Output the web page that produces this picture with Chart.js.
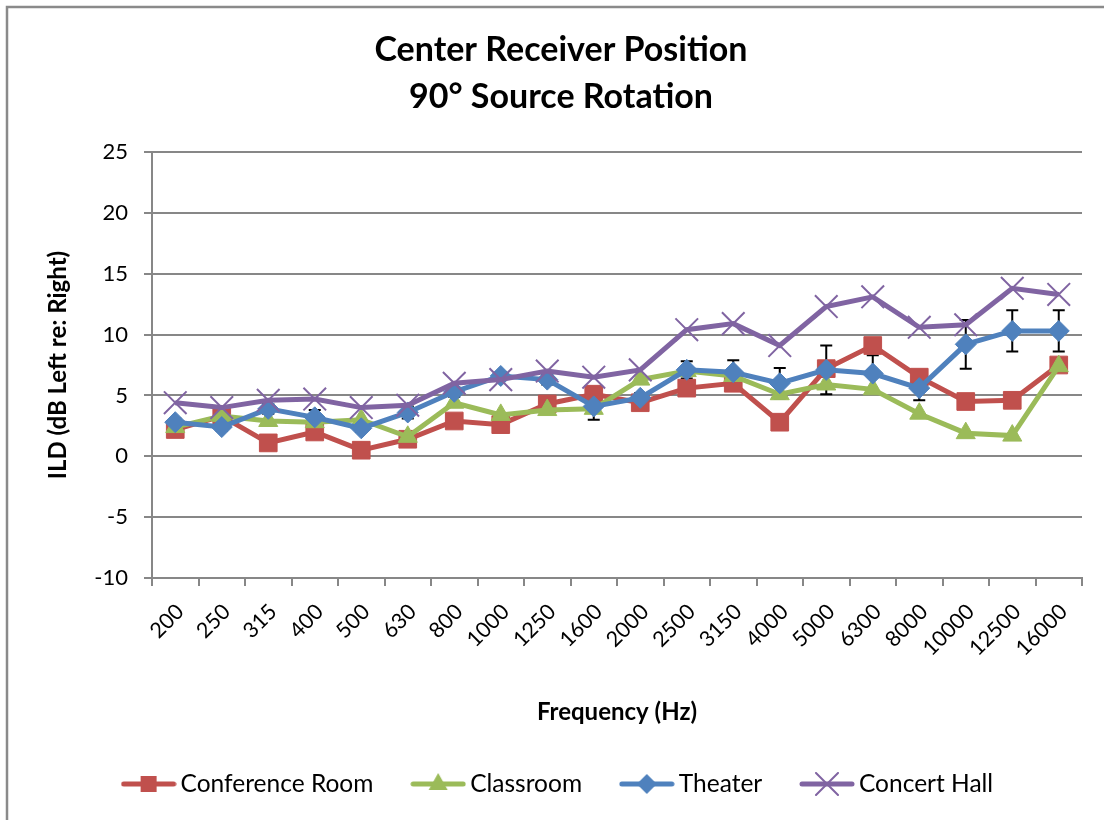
<!DOCTYPE html>
<html>
<head>
<meta charset="utf-8">
<title>Center Receiver Position - 90° Source Rotation</title>
<script src="https://cdn.jsdelivr.net/npm/chart.js@4.4.0/dist/chart.umd.min.js"></script>
<style>
  html, body { margin: 0; padding: 0; background: #fff; }
  canvas { display: block; }
</style>
</head>
<body>
<canvas id="ildChart" width="1104" height="820"></canvas>
<script>
// ---- data ----
const frequencies = ['200', '250', '315', '400', '500', '630', '800', '1000', '1250', '1600',
  '2000', '2500', '3150', '4000', '5000', '6300', '8000', '10000', '12500', '16000'];

const conferenceRoom = [2.2, 3.3, 1.1, 2.0, 0.5, 1.4, 2.9, 2.6, 4.3, 5.1,
  4.4, 5.6, 6.0, 2.8, 7.2, 9.1, 6.5, 4.5, 4.6, 7.5];
const classroom = [2.4, 3.3, 2.9, 2.8, 3.0, 1.6, 4.4, 3.4, 3.8, 3.9,
  6.3, 7.0, 6.6, 5.1, 5.9, 5.5, 3.5, 1.9, 1.7, 7.4];
const theater = [2.8, 2.4, 3.9, 3.2, 2.3, 3.6, 5.3, 6.6, 6.3, 4.1,
  4.8, 7.1, 6.9, 6.0, 7.1, 6.8, 5.6, 9.2, 10.3, 10.3];
const theaterErr = [0.3, 0.3, 0.4, 0.6, 0.3, 0.5, 0.4, 0.3, 0.4, 1.1,
  0.4, 0.7, 1.0, 1.25, 2.0, 1.5, 1.0, 2.0, 1.7, 1.7];
const concertHall = [4.4, 4.0, 4.6, 4.7, 4.0, 4.2, 6.0, 6.3, 7.0, 6.5,
  7.1, 10.4, 10.9, 9.1, 12.3, 13.1, 10.6, 10.8, 13.8, 13.3];

const yMin = -10;
const yMax = 25;
const yStep = 5;

// Office-style palette
const colors = {
  red: '#C0504D',
  green: '#9BBB59',
  blue: '#4F81BD',
  purple: '#8064A2',
  grid: '#878787',
  text: '#000000'
};

Chart.defaults.font.family = 'Lato, "Open Sans", sans-serif';
Chart.defaults.color = colors.text;

// small line+marker pictures for the legend
function makeIcon(color, shape) {
  const c = document.createElement('canvas');
  c.width = 56;
  c.height = 24;
  const g = c.getContext('2d');
  g.strokeStyle = color;
  g.fillStyle = color;
  g.lineWidth = 5;
  g.lineCap = 'round';
  g.beginPath();
  g.moveTo(3, 12);
  g.lineTo(53, 12);
  g.stroke();
  const cx = 28, cy = 12;
  g.beginPath();
  if (shape === 'rect') {
    g.rect(cx - 8, cy - 8, 16, 16);
    g.fill();
  } else if (shape === 'triangle') {
    g.moveTo(cx, cy - 11);
    g.lineTo(cx + 9.5, cy + 6);
    g.lineTo(cx - 9.5, cy + 6);
    g.closePath();
    g.fill();
  } else if (shape === 'rectRot') {
    g.moveTo(cx - 10, cy);
    g.lineTo(cx, cy - 10);
    g.lineTo(cx + 10, cy);
    g.lineTo(cx, cy + 10);
    g.closePath();
    g.fill();
  } else {
    g.lineWidth = 2;
    g.moveTo(cx - 11, cy - 11); g.lineTo(cx + 11, cy + 11);
    g.moveTo(cx + 11, cy - 11); g.lineTo(cx - 11, cy + 11);
    g.stroke();
  }
  return c;
}

const legendIcons = [
  makeIcon(colors.red, 'rect'),
  makeIcon(colors.green, 'triangle'),
  makeIcon(colors.blue, 'rectRot'),
  makeIcon(colors.purple, 'crossRot')
];

// grey frame round the whole chart (only left/top edges fall inside the window)
const frame = {
  id: 'frame',
  beforeDraw(chart) {
    const ctx = chart.ctx;
    ctx.save();
    ctx.fillStyle = '#fff';
    ctx.fillRect(0, 0, chart.width, chart.height);
    ctx.strokeStyle = '#8a8a8a';
    ctx.lineWidth = 2.5;
    ctx.strokeRect(7, 7, chart.width + 40, chart.height + 40);
    ctx.restore();
  }
};

// error bars on the Theater series
const errorBars = {
  id: 'errorBars',
  beforeDatasetsDraw(chart) {
    const { ctx, scales: { x, y } } = chart;
    ctx.save();
    ctx.strokeStyle = '#000';
    ctx.lineWidth = 2;
    theater.forEach((v, i) => {
      const px = x.getPixelForValue(i);
      const top = y.getPixelForValue(v + theaterErr[i]);
      const bot = y.getPixelForValue(v - theaterErr[i]);
      ctx.beginPath();
      ctx.moveTo(px, top); ctx.lineTo(px, bot);
      ctx.moveTo(px - 6, top); ctx.lineTo(px + 6, top);
      ctx.moveTo(px - 6, bot); ctx.lineTo(px + 6, bot);
      ctx.stroke();
    });
    ctx.restore();
  }
};

function series(label, data, color, pointStyle, radius, order) {
  return {
    label,
    data,
    borderColor: color,
    backgroundColor: color,
    borderWidth: 5,
    pointStyle,
    pointRadius: radius,
    pointHoverRadius: radius,
    pointBackgroundColor: color,
    pointBorderColor: color,
    pointBorderWidth: pointStyle === 'crossRot' ? 2 : 1,
    tension: 0,
    order
  };
}

const ctx = document.getElementById('ildChart').getContext('2d');
new Chart(ctx, {
  type: 'line',
  data: {
    labels: frequencies,
    datasets: [
      series('Conference Room', conferenceRoom, colors.red, 'rect', 12.5, 4),
      series('Classroom', classroom, colors.green, 'triangle', 11, 3),
      series('Theater', theater, colors.blue, 'rectRot', 10.5, 2),
      series('Concert Hall', concertHall, colors.purple, 'crossRot', 16, 1)
    ]
  },
  options: {
    responsive: false,
    animation: false,
    layout: { padding: { left: 40, top: 7, right: 22, bottom: 13.75 } },
    plugins: {
      title: {
        display: true,
        text: ['Center Receiver Position', '90° Source Rotation'],
        color: colors.text,
        font: { size: 34, weight: 'bold', lineHeight: 47 / 34 },
        padding: { top: 19.5, bottom: 31.5 }
      },
      legend: {
        position: 'bottom',
        labels: {
          usePointStyle: true,
          pointStyleWidth: 39.5,
          boxHeight: 24,
          padding: 45,
          color: colors.text,
          font: { size: 24.5 },
          sort: (a, b) => a.datasetIndex - b.datasetIndex,
          generateLabels: (chart) => {
            const items = Chart.defaults.plugins.legend.labels.generateLabels(chart);
            items.forEach(it => { it.pointStyle = legendIcons[it.datasetIndex]; });
            return items;
          }
        }
      },
      tooltip: { enabled: false }
    },
    scales: {
      x: {
        offset: true,
        afterFit: (scale) => { scale.height = 148.75; },
        grid: {
          offset: true,
          drawOnChartArea: false,
          drawTicks: true,
          tickLength: 8,
          color: colors.grid,
          lineWidth: 2
        },
        border: { display: true, color: colors.grid, width: 2 },
        ticks: {
          minRotation: 45,
          maxRotation: 45,
          autoSkip: false,
          padding: 13,
          labelOffset: 5,
          color: colors.text,
          font: { size: 21.5 }
        },
        title: {
          display: true,
          text: 'Frequency (Hz)',
          color: colors.text,
          font: { size: 24, weight: 'bold' },
          padding: { top: 4, bottom: 0 }
        }
      },
      y: {
        min: yMin,
        max: yMax,
        afterFit: (scale) => { scale.width = 112; },
        grid: {
          color: colors.grid,
          lineWidth: 2,
          tickLength: 8
        },
        border: { display: true, color: colors.grid, width: 2 },
        ticks: {
          stepSize: yStep,
          padding: 16,
          color: colors.text,
          font: { size: 22 }
        },
        title: {
          display: true,
          text: 'ILD (dB Left re: Right)',
          color: colors.text,
          font: { size: 24, weight: 'bold' },
          padding: { top: 4, bottom: 4 }
        }
      }
    }
  },
  plugins: [frame, errorBars]
});
</script>
</body>
</html>
